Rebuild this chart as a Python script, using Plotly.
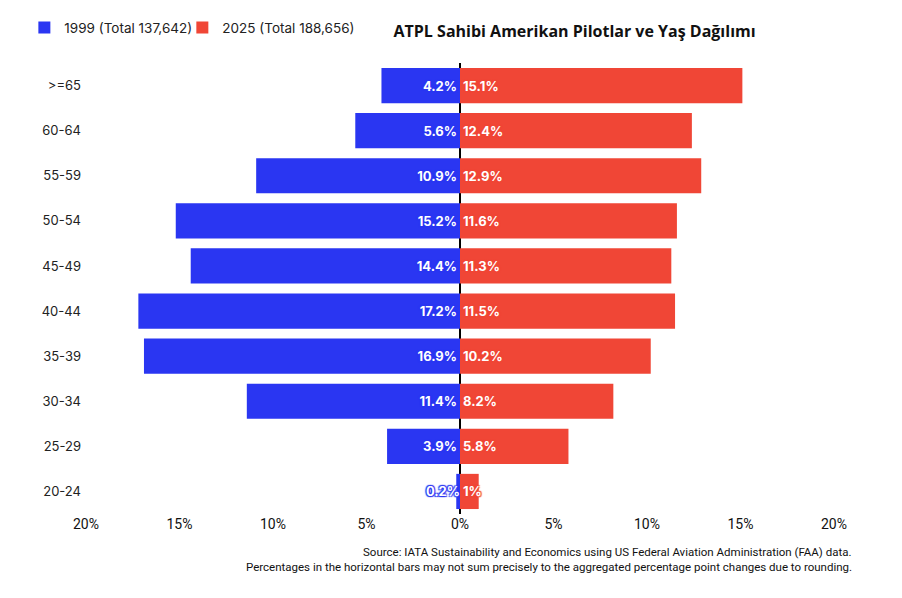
import plotly.graph_objects as go

ages = ["20-24", "25-29", "30-34", "35-39", "40-44", "45-49", "50-54", "55-59", "60-64", ">=65"]
v1999 = [0.2, 3.9, 11.4, 16.9, 17.2, 14.4, 15.2, 10.9, 5.6, 4.2]
v2025 = [1.0, 5.8, 8.2, 10.2, 11.5, 11.3, 11.6, 12.9, 12.4, 15.1]
lab1999 = ["0.2%", "3.9%", "11.4%", "16.9%", "17.2%", "14.4%", "15.2%", "10.9%", "5.6%", "4.2%"]
lab2025 = ["1%", "5.8%", "8.2%", "10.2%", "11.5%", "11.3%", "11.6%", "12.9%", "12.4%", "15.1%"]
tickvals = [-20, -15, -10, -5, 0, 5, 10, 15, 20]
ticktext = ["20%", "15%", "10%", "5%", "0%", "5%", "10%", "15%", "20%"]

BLUE = "#2a36f2"
RED = "#f04636"


def outline(c):
    return "1px 1px 1px %s, -1px -1px 1px %s, 1px -1px 1px %s, -1px 1px 1px %s" % (c, c, c, c)


fig = go.Figure()
fig.add_trace(go.Bar(
    y=ages, x=[-v for v in v1999], orientation="h", name="1999 (Total 137,642)",
    marker=dict(color=BLUE, line=dict(width=0)), width=0.78, legend="legend", showlegend=True,
    text=lab1999, textposition="inside", insidetextanchor="start", constraintext="none", textangle=0,
    textfont=dict(family="Inter", size=13, color="white", weight="bold", shadow=outline(BLUE)),
    hoverinfo="skip", cliponaxis=False,
))
fig.add_trace(go.Bar(
    y=ages, x=v2025, orientation="h", name="2025 (Total 188,656)",
    marker=dict(color=RED, line=dict(width=0)), width=0.78, legend="legend2", showlegend=True,
    text=lab2025, textposition="inside", insidetextanchor="start", constraintext="none", textangle=0,
    textfont=dict(family="Inter", size=13, color="white", weight="bold", shadow=outline(RED)),
    hoverinfo="skip", cliponaxis=False,
))

leg_common = dict(orientation="h", xanchor="left", y=1.078, yanchor="middle",
                  font=dict(family="Inter", size=13.5, color="#222222"),
                  itemwidth=30, bgcolor="rgba(0,0,0,0)", visible=True)

fig.update_layout(
    width=902, height=598,
    barmode="overlay", showlegend=True,
    plot_bgcolor="white", paper_bgcolor="white",
    margin=dict(l=86, r=68, t=59, b=84),
    font=dict(family="Inter", size=13, color="#222222"),
    title=dict(text="<b>ATPL Sahibi Amerikan Pilotlar ve Yaş Dağılımı</b>",
               font=dict(family="Open Sans", size=16, color="#111111"),
               x=0.637, xanchor="center", y=0.948, yanchor="middle", xref="container", yref="container"),
    legend=dict(x=-0.0824, **leg_common),
    legend2=dict(x=0.1288, **leg_common),
    xaxis=dict(range=[-20, 20], tickvals=tickvals, ticktext=ticktext, showgrid=False,
               zeroline=True, zerolinecolor="black", zerolinewidth=2, showline=False,
               tickfont=dict(family="Roboto", size=14, color="#111111"), ticks="", fixedrange=True),
    yaxis=dict(showgrid=False, zeroline=False, showline=False, ticks="",
               tickfont=dict(family="Inter", size=13, color="#222222"), ticklabelstandoff=4,
               categoryorder="array", categoryarray=ages),
    annotations=[
        dict(text="Source: IATA Sustainability and Economics using US Federal Aviation Administration (FAA) data.",
             xref="paper", yref="paper", x=1.027, y=-0.084, xanchor="right", yanchor="middle",
             showarrow=False, font=dict(family="Roboto", size=11.5, color="#111111")),
        dict(text="Percentages in the horizontal bars may not sum precisely to the aggregated percentage point changes due to rounding.",
             xref="paper", yref="paper", x=1.027, y=-0.117, xanchor="right", yanchor="middle",
             showarrow=False, font=dict(family="Roboto", size=11.5, color="#111111")),
    ],
)

fig.write_html("out.html")
